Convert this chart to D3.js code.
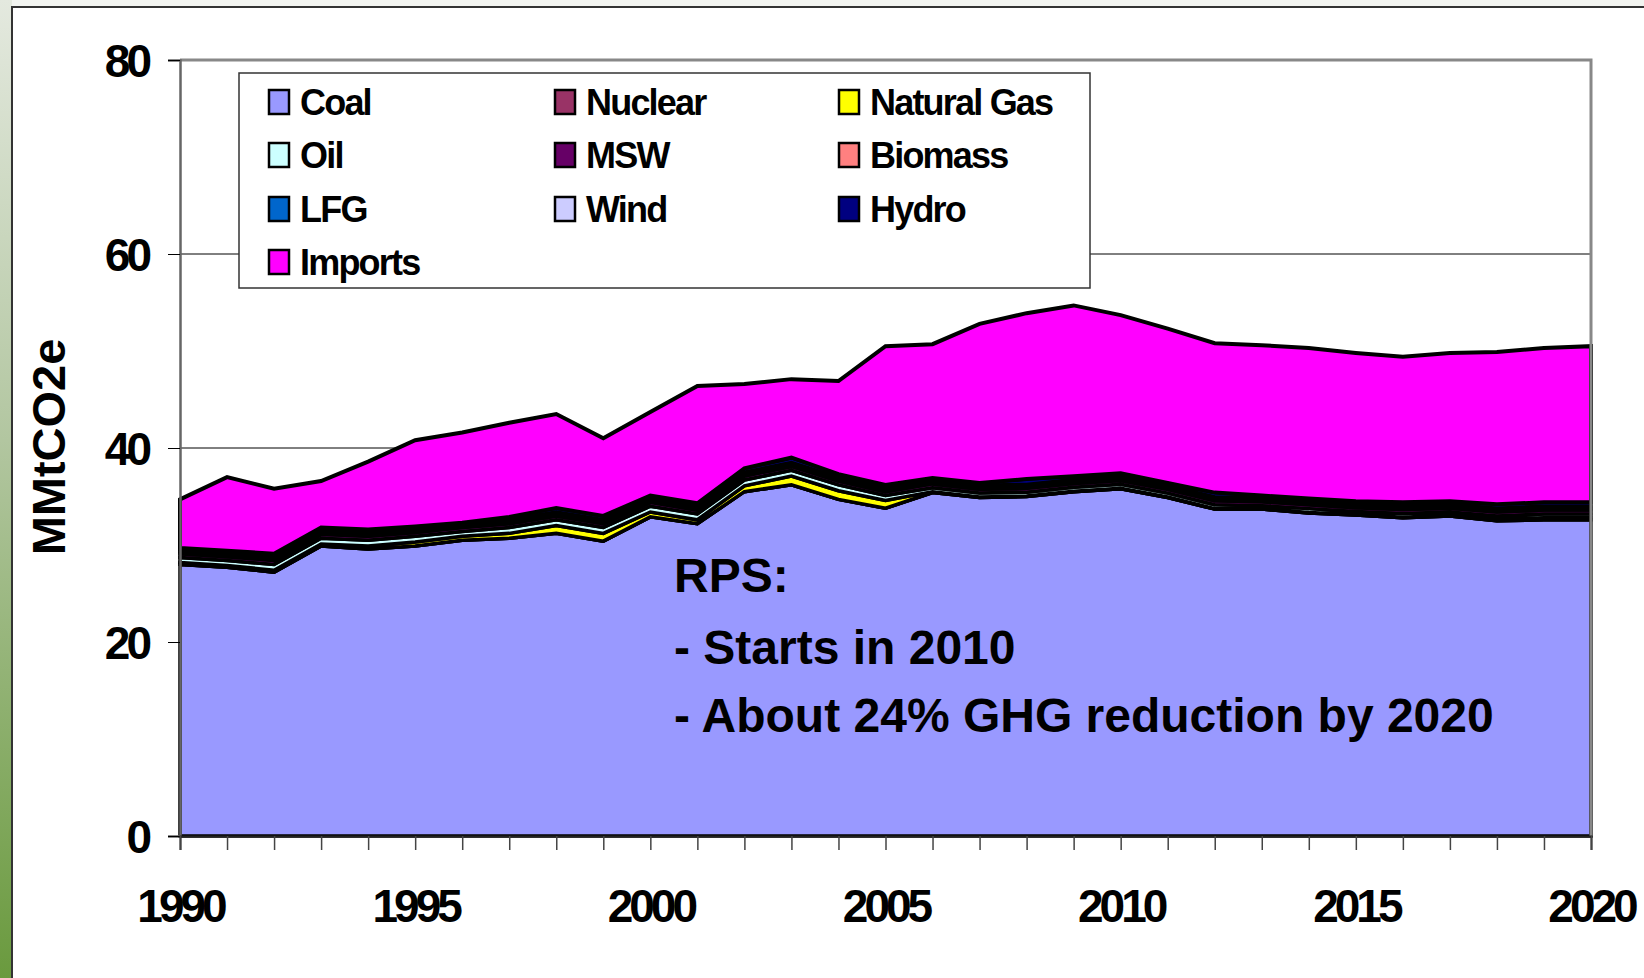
<!DOCTYPE html>
<html lang="en">
<head>
<meta charset="UTF-8">
<title>Emissions by source, MMtCO2e</title>
<script src="https://d3js.org/d3.v7.min.js"></script>
<style>
  body { margin: 0; padding: 0; background: #f2f4f0; }
  svg { display: block; }
  text { font-family: Arial, "Liberation Sans", sans-serif; font-weight: bold; fill: #000; }
</style>
</head>
<body>
<script>
// values (MMtCO2e)
var years = [1990, 1991, 1992, 1993, 1994, 1995, 1996, 1997, 1998, 1999, 2000,
             2001, 2002, 2003, 2004, 2005, 2006, 2007, 2008, 2009, 2010,
             2011, 2012, 2013, 2014, 2015, 2016, 2017, 2018, 2019, 2020];
var coal =    [28.0, 27.7, 27.2, 29.9, 29.6, 29.9, 30.5, 30.7, 31.2, 30.4, 32.9,
               32.2, 35.5, 36.2, 34.7, 33.8, 35.4, 34.9, 35.0, 35.5, 35.8,
               34.9, 33.7, 33.7, 33.3, 33.1, 32.8, 33.0, 32.5, 32.6, 32.6];
var nuclear = [0, 0, 0, 0, 0, 0, 0, 0, 0, 0, 0, 0, 0, 0, 0, 0,
               0, 0, 0, 0, 0, 0, 0, 0, 0, 0, 0, 0, 0, 0, 0];
var gas =     [0.2, 0.2, 0.2, 0.2, 0.3, 0.4, 0.4, 0.5, 0.8, 0.8, 0.5,
               0.4, 0.6, 0.9, 0.9, 0.8, 0.1, 0.05, 0.05, 0.05, 0.05,
               0.05, 0.05, 0.05, 0.05, 0.05, 0.05, 0.1, 0.2, 0.2, 0.2];
var oil =     [0.5, 0.5, 0.6, 0.6, 0.6, 0.6, 0.5, 0.6, 0.6, 0.6, 0.6,
               0.6, 0.6, 0.6, 0.6, 0.5, 0.4, 0.4, 0.4, 0.4, 0.4,
               0.4, 0.4, 0.3, 0.4, 0.3, 0.4, 0.3, 0.3, 0.4, 0.4];
var msw =     [0.4, 0.4, 0.4, 0.4, 0.4, 0.4, 0.4, 0.4, 0.4, 0.4, 0.4,
               0.4, 0.4, 0.4, 0.4, 0.4, 0.4, 0.4, 0.4, 0.4, 0.4,
               0.4, 0.4, 0.4, 0.4, 0.4, 0.4, 0.4, 0.4, 0.4, 0.4];
var biomass = [0.2, 0.2, 0.2, 0.2, 0.2, 0.2, 0.2, 0.2, 0.2, 0.2, 0.2,
               0.2, 0.2, 0.2, 0.2, 0.2, 0.2, 0.2, 0.2, 0.2, 0.2,
               0.2, 0.2, 0.2, 0.2, 0.2, 0.2, 0.2, 0.2, 0.2, 0.2];
var lfg =     [0.2, 0.2, 0.2, 0.2, 0.2, 0.2, 0.2, 0.2, 0.2, 0.2, 0.2,
               0.2, 0.2, 0.2, 0.2, 0.2, 0.2, 0.2, 0.2, 0.2, 0.2,
               0.2, 0.2, 0.2, 0.2, 0.2, 0.2, 0.2, 0.2, 0.2, 0.2];
var wind =    [0, 0, 0, 0, 0, 0, 0, 0, 0, 0, 0, 0, 0, 0, 0, 0,
               0, 0, 0, 0, 0, 0, 0, 0, 0, 0, 0, 0, 0, 0, 0];
var hydro =   [0.2, 0.2, 0.3, 0.3, 0.3, 0.2, 0.1, 0.3, 0.4, 0.4, 0.3,
               0.3, 0.4, 0.5, 0.3, 0.3, 0.2, 0.25, 0.55, 0.35, 0.35,
               0.25, 0.45, 0.25, 0.25, 0.25, 0.35, 0.3, 0.4, 0.4, 0.4];
var imports = [5.0, 7.6, 6.7, 4.8, 7.0, 8.9, 9.3, 9.7, 9.7, 8.0, 8.6,
               12.1, 8.7, 8.1, 9.6, 14.3, 13.8, 16.4, 17.1, 17.6, 16.3,
               15.9, 15.4, 15.5, 15.5, 15.3, 15.0, 15.3, 15.7, 15.9, 16.1];

var seriesNames = ['Coal', 'Nuclear', 'Natural Gas', 'Oil', 'MSW', 'Biomass', 'LFG', 'Wind', 'Hydro', 'Imports'];
var seriesValues = [coal, nuclear, gas, oil, msw, biomass, lfg, wind, hydro, imports];
var seriesColors = ['#9999ff', '#993366', '#ffff00', '#ccffff', '#660066', '#ff8080', '#0066cc', '#ccccff', '#000080', '#ff00ff'];
var yTicks = [0, 20, 40, 60, 80];
var xLabels = [1990, 1995, 2000, 2005, 2010, 2015, 2020];
var note = ['RPS:', '- Starts in 2010', '- About 24% GHG reduction by 2020'];

var width = 1644, height = 978;
// plot area edges (window.top is read-only, so no bare "top")
var plotL = 180, plotR = 1591, plotT = 60, plotB = 836;

// rows for d3.stack
var table = years.map(function(yr, i) {
    var row = { year: yr };
    seriesNames.forEach(function(name, k) { row[name] = seriesValues[k][i]; });
    return row;
});

var svg = d3.select('body').append('svg')
    .attr('width', width)
    .attr('height', height);

// background, green strip on the left, white slide frame
var defs = svg.append('defs');
var grad = defs.append('linearGradient').attr('id', 'strip')
    .attr('x1', 0).attr('y1', 0).attr('x2', 0).attr('y2', 1);
grad.append('stop').attr('offset', '0%').attr('stop-color', '#e4e9df');
grad.append('stop').attr('offset', '45%').attr('stop-color', '#b2c6a0');
grad.append('stop').attr('offset', '100%').attr('stop-color', '#6a9a3e');

svg.append('rect').attr('width', width).attr('height', height).attr('fill', '#f2f4f0');
svg.append('rect').attr('x', 0).attr('y', 0).attr('width', 12).attr('height', height).attr('fill', 'url(#strip)');
svg.append('rect')
    .attr('x', 12).attr('y', 7).attr('width', width).attr('height', height)
    .attr('fill', '#fff').attr('stroke', '#333').attr('stroke-width', 2);

var x = d3.scaleLinear().domain([1990, 2020]).range([plotL, plotR]);
var y = d3.scaleLinear().domain([0, 80]).range([plotB, plotT]);

// gridlines
svg.append('g').selectAll('line')
    .data(yTicks.filter(function(d) { return d > 0 && d < 80; }))
    .enter().append('line')
    .attr('x1', plotL).attr('x2', plotR)
    .attr('y1', function(d) { return y(d); })
    .attr('y2', function(d) { return y(d); })
    .attr('stroke', '#000').attr('stroke-width', 1);

// stacked areas
var stack = d3.stack().keys(seriesNames);
var layers = stack(table);

var area = d3.area()
    .x(function(d) { return x(d.data.year); })
    .y0(function(d) { return y(d[0]); })
    .y1(function(d) { return y(d[1]); });

svg.append('g').selectAll('path')
    .data(layers)
    .enter().append('path')
    .attr('d', area)
    .attr('fill', function(d, i) { return seriesColors[i]; })
    .attr('stroke', '#000')
    .attr('stroke-width', function(d, i) { return i === layers.length - 1 ? 4 : 3.5; })
    .attr('stroke-linejoin', 'miter');

// plot area border (top and right)
svg.append('path')
    .attr('d', 'M' + plotL + ',' + plotT + 'H' + plotR + 'V' + plotB)
    .attr('fill', 'none').attr('stroke', '#888').attr('stroke-width', 3);

// y axis
var yAxis = svg.append('g')
    .attr('transform', 'translate(' + plotL + ',0)')
    .call(d3.axisLeft(y).tickValues(yTicks).tickSize(12).tickPadding(20));
yAxis.select('.domain').attr('stroke', '#666').attr('stroke-width', 2.5);
yAxis.selectAll('.tick line').attr('stroke', '#000').attr('stroke-width', 1);
yAxis.selectAll('text')
    .style('font-size', '46px').style('letter-spacing', '-4px')
    .attr('dy', '0.36em');

// x axis
var xAxis = svg.append('g')
    .attr('transform', 'translate(0,' + plotB + ')')
    .call(d3.axisBottom(x).tickValues(years).tickSize(14)
        .tickFormat(function(d) { return xLabels.indexOf(d) >= 0 ? d : ''; }));
xAxis.select('.domain').attr('stroke', '#222').attr('stroke-width', 2);
xAxis.selectAll('.tick line').attr('stroke', '#444').attr('stroke-width', 1.5);
xAxis.selectAll('text')
    .style('font-size', '46px').style('letter-spacing', '-4px')
    .attr('y', 53).attr('dx', '0px');

svg.selectAll('.tick text').attr('fill', '#000');
svg.selectAll('g').attr('font-family', null).attr('font-size', null);

// y axis title
svg.append('text')
    .attr('transform', 'translate(65,447) rotate(-90)')
    .attr('text-anchor', 'middle')
    .style('font-size', '47px')
    .text('MMtCO2e');

// legend
var legend = svg.append('g');
legend.append('rect')
    .attr('x', 239).attr('y', 73).attr('width', 851).attr('height', 215)
    .attr('fill', '#fff').attr('stroke', '#333').attr('stroke-width', 1.5);

var colX = [269, 555, 839];
var rowY = [102, 155, 209, 262];
var item = legend.selectAll('.item')
    .data(seriesNames)
    .enter().append('g')
    .attr('class', 'item')
    .attr('transform', function(d, i) {
        return 'translate(' + colX[i % 3] + ',' + rowY[Math.floor(i / 3)] + ')';
    });
item.append('rect')
    .attr('x', 0).attr('y', -12).attr('width', 20).attr('height', 24)
    .attr('fill', function(d, i) { return seriesColors[i]; })
    .attr('stroke', '#000').attr('stroke-width', 2.5);
item.append('text')
    .attr('x', 31).attr('y', 13)
    .style('font-size', '36px').style('letter-spacing', '-1.8px')
    .text(function(d) { return d; });

// annotation
svg.append('g').selectAll('text')
    .data(note)
    .enter().append('text')
    .attr('x', 674)
    .attr('y', function(d, i) { return [592, 664, 732][i]; })
    .style('font-size', '48px')
    .text(function(d) { return d; });
</script>
</body>
</html>
